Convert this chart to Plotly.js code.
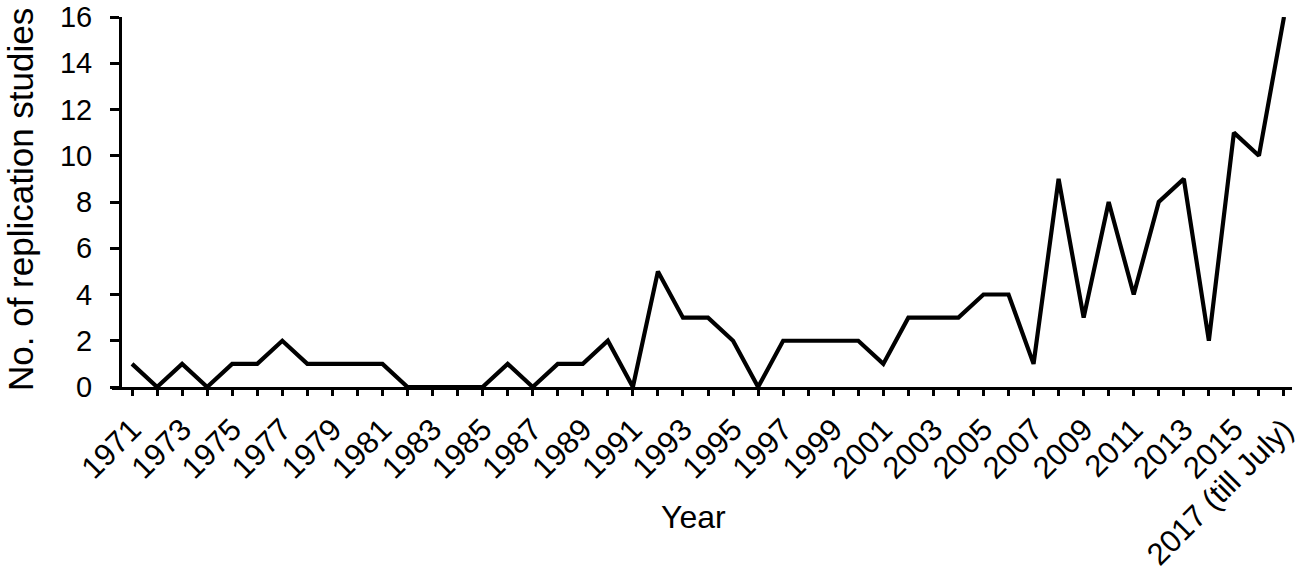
<!DOCTYPE html>
<html>
<head>
<meta charset="utf-8">
<script src="https://cdn.plot.ly/plotly-3.0.1.min.js"></script>
<style>html,body{margin:0;padding:0;background:#fff;}#chart{width:1300px;height:588px;}</style>
</head>
<body>
<div id="chart"></div>
<script>
var years = [1971,1972,1973,1974,1975,1976,1977,1978,1979,1980,1981,1982,1983,1984,1985,1986,1987,1988,1989,1990,1991,1992,1993,1994,1995,1996,1997,1998,1999,2000,2001,2002,2003,2004,2005,2006,2007,2008,2009,2010,2011,2012,2013,2014,2015,2016,2017];
var studies = [1,0,1,0,1,1,2,1,1,1,1,0,0,0,0,1,0,1,1,2,0,5,3,3,2,0,2,2,2,2,1,3,3,3,4,4,1,9,3,8,4,8,9,2,11,10,16];
var tickYears = [1971,1973,1975,1977,1979,1981,1983,1985,1987,1989,1991,1993,1995,1997,1999,2001,2003,2005,2007,2009,2011,2013,2015,2017];
var tickLabels = ["1971","1973","1975","1977","1979","1981","1983","1985","1987","1989","1991","1993","1995","1997","1999","2001","2003","2005","2007","2009","2011","2013","2015","2017 (till July)"];
var yTicks = [0,2,4,6,8,10,12,14,16];
var xTitle = 'Year';
var yTitle = 'No. of replication studies';

var font = "Liberation Sans, Arial, Helvetica, sans-serif";
var trace = {
  x: years, y: studies, type: 'scatter', mode: 'lines',
  line: {color: '#000', width: 4.2},
  hoverinfo: 'skip', cliponaxis: false
};
var layout = {
  width: 1300, height: 588,
  margin: {l: 112, r: 8, t: 17, b: 201},
  paper_bgcolor: '#fff', plot_bgcolor: '#fff',
  showlegend: false,
  font: {family: font, color: '#000'},
  xaxis: {
    range: [1970.2, 2017.32],
    tickmode: 'array', tickvals: tickYears, ticktext: tickLabels,
    tickangle: -45,
    ticks: 'outside', ticklen: 6, tickwidth: 3, tickcolor: '#000',
    minor: {dtick: 1, tick0: 1971, ticks: 'outside', ticklen: 6, tickwidth: 3, tickcolor: '#000'},
    showline: true, linewidth: 3, linecolor: '#000',
    showgrid: false, zeroline: false,
    tickfont: {family: font, size: 31, color: '#000'},
    ticklabelstandoff: 3,
    ticklabeloverflow: 'allow'
  },
  yaxis: {
    range: [0, 16],
    anchor: 'free', position: 0.0068,
    tickmode: 'array', tickvals: yTicks,
    ticks: 'outside', ticklen: 9, tickwidth: 3, tickcolor: '#000',
    showline: true, linewidth: 3, linecolor: '#000',
    showgrid: false, zeroline: false,
    tickfont: {family: font, size: 29, color: '#000'},
    ticklabelstandoff: 12
  },
  annotations: [
    {text: xTitle, xref: 'paper', yref: 'paper', x: (693-112)/1180, y: -(517-387)/370,
     xanchor: 'center', yanchor: 'middle', showarrow: false,
     font: {family: font, size: 32, color: '#000'}},
    {text: yTitle, xref: 'paper', yref: 'paper', x: -(112-20)/1180, y: (387-200)/370,
     xanchor: 'center', yanchor: 'middle', showarrow: false, textangle: -90,
     font: {family: font, size: 35, color: '#000'}}
  ]
};
Plotly.newPlot('chart', [trace], layout, {staticPlot: true, displayModeBar: false});
</script>
</body>
</html>
